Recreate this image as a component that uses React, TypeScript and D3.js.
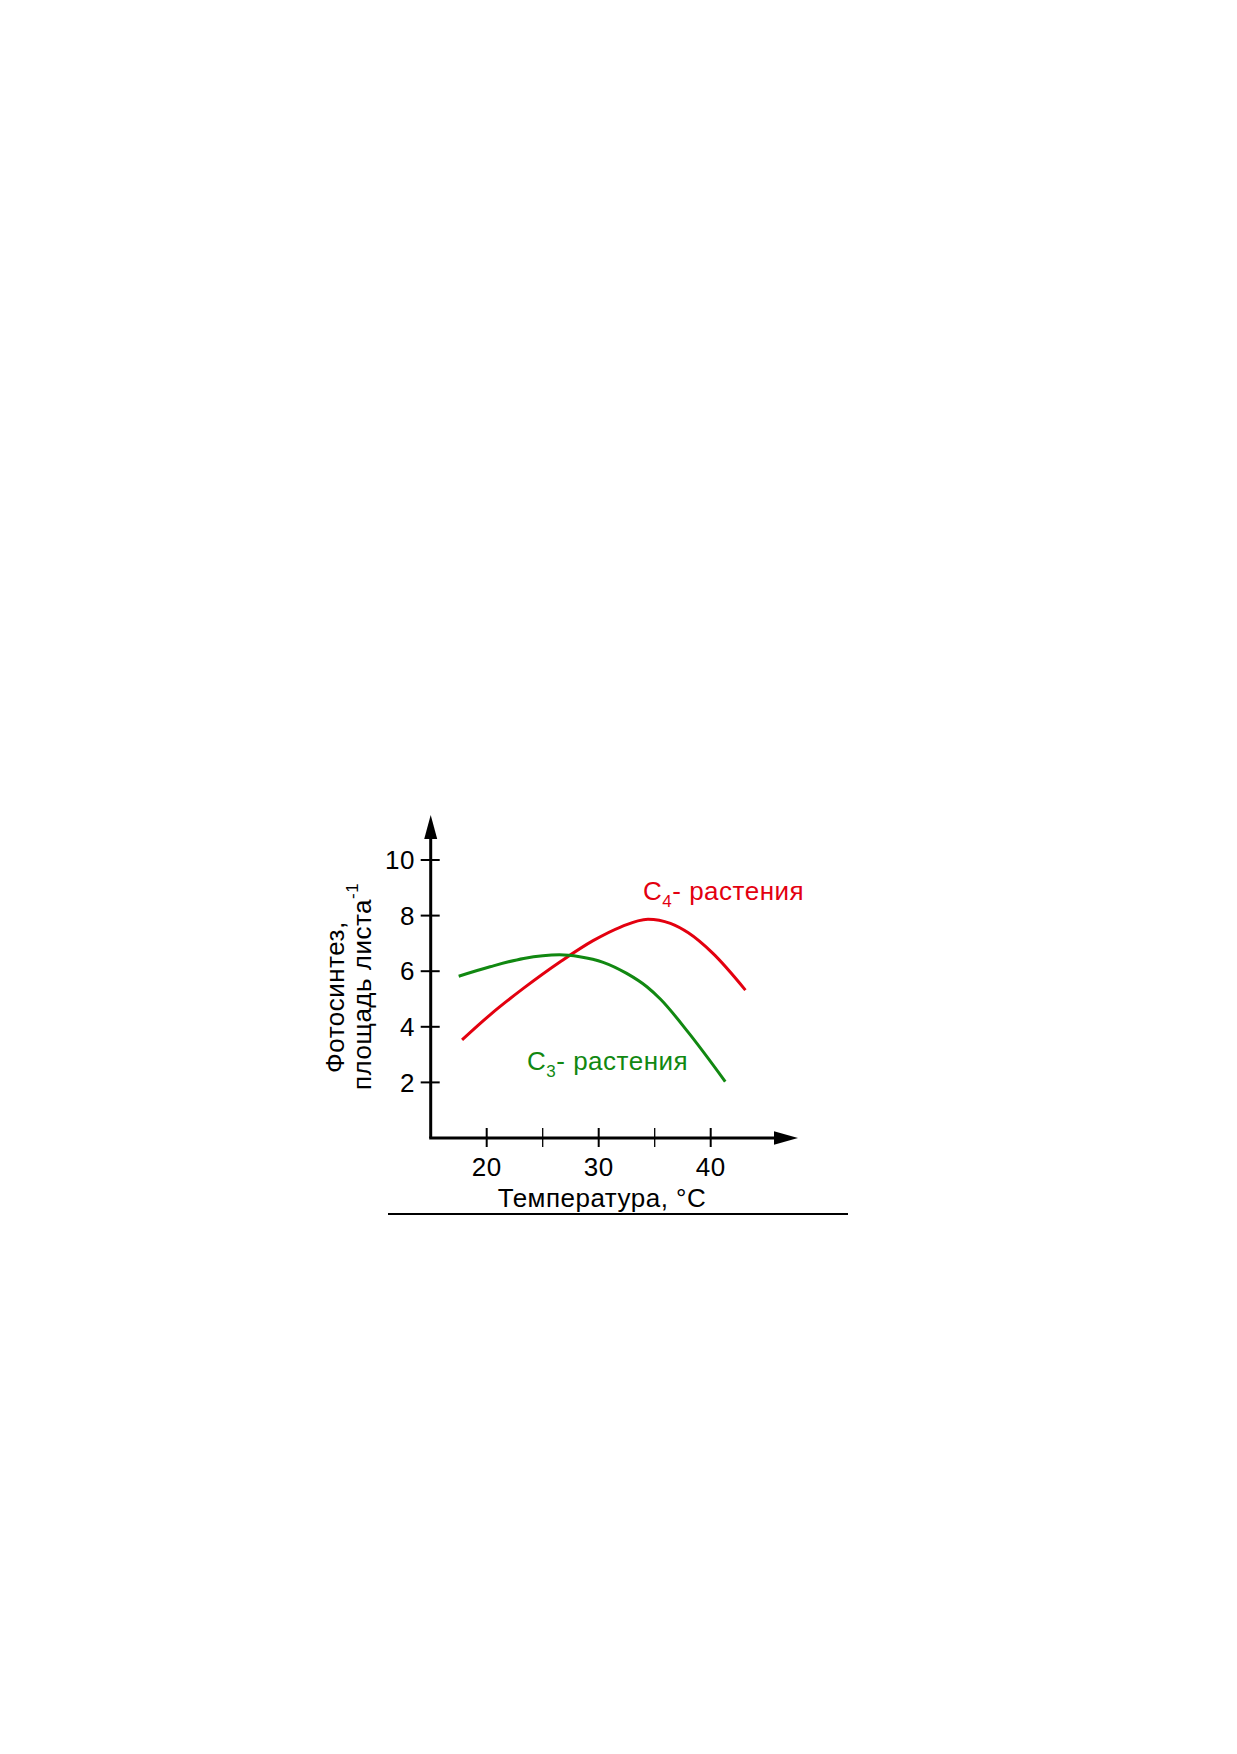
import React from "react";
import * as d3 from "d3";

// Размеры страницы
const WIDTH = 1237;
const HEIGHT = 1754;

// Данные
const c4Temps: number[] = [17.8, 20.3, 23.3, 26.6, 29.5, 31.9, 34.4, 36.4, 38.0, 40.2, 43.1];
const c4Values: number[] = [3.53, 4.43, 5.39, 6.35, 7.1, 7.58, 7.87, 7.72, 7.38, 6.64, 5.32];
const c3Temps: number[] = [17.5, 20.3, 23.3, 26.5, 28.3, 30.4, 32.5, 34.3, 35.5, 38.0, 41.3];
const c3Values: number[] = [5.82, 6.16, 6.46, 6.59, 6.52, 6.32, 5.92, 5.44, 5.0, 3.8, 2.03];

const yTicks: number[] = [2, 4, 6, 8, 10];
const xTicks: number[] = [20, 25, 30, 35, 40];
const xTickLabels: number[] = [20, 30, 40];

const RED = "#e3000f";
const GREEN = "#118811";
const FONT = "'Liberation Sans', Arial, sans-serif";
const FS = 26;
const LS = 0.5;

const App: React.FC = () => {
  // Шкалы
  const x = d3.scaleLinear().domain([15, 45]).range([430.7, 766.7]);
  const y = d3.scaleLinear().domain([0, 10]).range([1138, 860]);

  const line = d3
    .line<[number, number]>()
    .x((d) => x(d[0]))
    .y((d) => y(d[1]))
    .curve(d3.curveMonotoneX);

  const c4 = line(c4Temps.map((t, i) => [t, c4Values[i]] as [number, number])) || "";
  const c3 = line(c3Temps.map((t, i) => [t, c3Values[i]] as [number, number])) || "";

  const x0 = x(15);
  const y0 = y(0);
  const yTip = 815;
  const xTip = 798;

  return (
    <svg
      width={WIDTH}
      height={HEIGHT}
      style={{ position: "absolute", left: 0, top: 0, background: "#fff" }}
      fontFamily={FONT}
      letterSpacing={LS}
    >
      {/* Оси */}
      <line x1={x0} y1={y0} x2={x0} y2={yTip + 20} stroke="#000" strokeWidth={3} />
      <line x1={x0 - 1.5} y1={y0} x2={xTip - 20} y2={y0} stroke="#000" strokeWidth={3} />
      <polygon points={`${x0},${yTip} ${x0 - 6.5},${yTip + 24} ${x0 + 6.5},${yTip + 24}`} fill="#000" />
      <polygon points={`${xTip},${y0} ${xTip - 24},${y0 - 6.7} ${xTip - 24},${y0 + 6.7}`} fill="#000" />

      {/* Деления оси Y */}
      {yTicks.map((t) => (
        <g key={"y" + t}>
          <line x1={x0 - 10} x2={x0 + 9} y1={y(t)} y2={y(t)} stroke="#000" strokeWidth={2} />
          <text x={415} y={y(t)} dy="0.35em" fontSize={FS} textAnchor="end">
            {t}
          </text>
        </g>
      ))}

      {/* Деления оси X */}
      {xTicks.map((t) => (
        <line
          key={"x" + t}
          x1={x(t)}
          x2={x(t)}
          y1={y0 - 10}
          y2={y0 + 9}
          stroke="#000"
          strokeWidth={t % 10 === 0 ? 2 : 1.3}
        />
      ))}
      {xTickLabels.map((t) => (
        <text key={"xl" + t} x={x(t)} y={1176} fontSize={FS} textAnchor="middle">
          {t}
        </text>
      ))}

      {/* Подписи осей */}
      <text x={602} y={1207} fontSize={FS} textAnchor="middle">
        Температура, °C
      </text>
      <text transform="translate(344,1073) rotate(-90)" fontSize={FS}>
        Фотосинтез,
      </text>
      <text transform="translate(371,1090) rotate(-90)" fontSize={FS}>
        площадь листа
        <tspan fontSize={17} dy={-13}>
          -1
        </tspan>
      </text>

      {/* Кривые */}
      <path d={c4} fill="none" stroke={RED} strokeWidth={3} />
      <path d={c3} fill="none" stroke={GREEN} strokeWidth={3} />

      {/* Подписи кривых */}
      <text x={643} y={900} fontSize={FS} fill={RED}>
        C
        <tspan fontSize={17} dy={7}>
          4
        </tspan>
        <tspan dy={-7}>- растения</tspan>
      </text>
      <text x={527} y={1070} fontSize={FS} fill={GREEN}>
        C
        <tspan fontSize={17} dy={7}>
          3
        </tspan>
        <tspan dy={-7}>- растения</tspan>
      </text>

      {/* Нижняя линия */}
      <line x1={388} x2={848} y1={1214} y2={1214} stroke="#000" strokeWidth={2} />
    </svg>
  );
};

export default App;
